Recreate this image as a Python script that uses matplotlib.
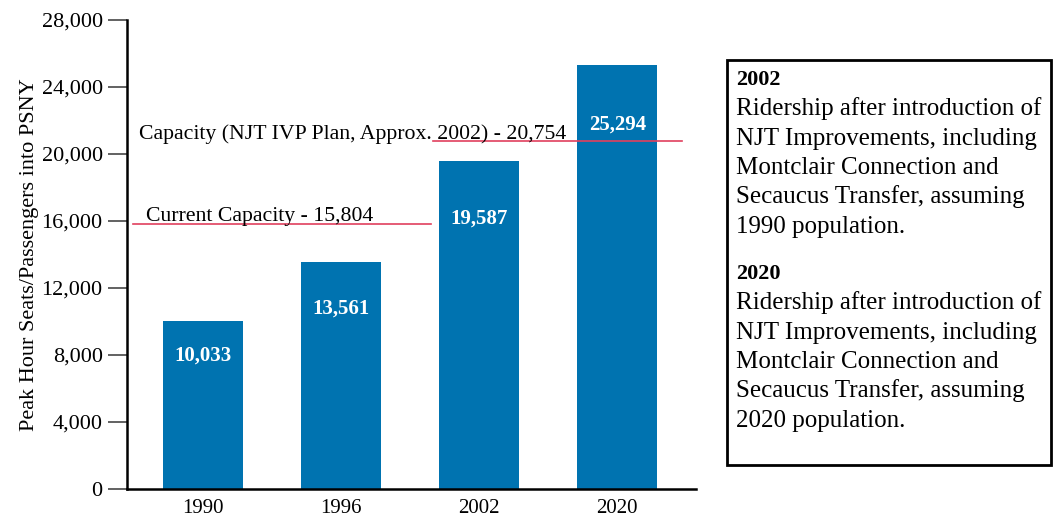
import matplotlib
matplotlib.use('Agg')
import matplotlib.pyplot as plt
from matplotlib.patches import Rectangle

plt.rcParams['font.family'] = 'Liberation Serif'

# Data
years = ['1990', '1996', '2002', '2020']
riders = [10033, 13561, 19587, 25294]
current_capacity = 15804
ivp_capacity = 20754
y_ticks = [0, 4000, 8000, 12000, 16000, 20000, 24000, 28000]
note_lines = ['Ridership after introduction of', 'NJT Improvements, including',
              'Montclair Connection and', 'Secaucus Transfer, assuming']
note_years = ['2002', '2020']
note_pops = ['1990 population.', '2020 population.']

BAR_COLOR = '#0073b0'
LINE_COLOR = '#e0405e'

fig = plt.figure(figsize=(10.54, 5.16), dpi=100)
ax = fig.add_axes([127 / 1054, 27 / 516, (696 - 127) / 1054, 469 / 516])

x = list(range(len(years)))
ax.bar(x, riders, width=0.58, color=BAR_COLOR, zorder=2)

# value labels inside bars (pixel offsets below bar top)
label_drop = [35, 47, 58, 59]
for xi, v, d in zip(x, riders, label_drop):
    ax.annotate(f"{v:,}", xy=(xi, v), xytext=(0, -d), textcoords='offset pixels',
                ha='center', va='center', color='white', fontsize=15,
                fontweight='bold', zorder=4)

# capacity lines
ax.plot([-0.507, 1.652], [current_capacity] * 2, color=LINE_COLOR, lw=1.2, zorder=3)
ax.plot([1.667, 3.47], [ivp_capacity] * 2, color=LINE_COLOR, lw=1.2, zorder=3)
ax.annotate(f"Current Capacity - {current_capacity:,}", xy=(-0.412, current_capacity),
            xytext=(0, 3), textcoords='offset pixels',
            fontsize=15.7, ha='left', va='baseline', zorder=4)
ax.annotate(f"Capacity (NJT IVP Plan, Approx. 2002) - {ivp_capacity:,}", xy=(-0.462, ivp_capacity),
            xytext=(0, 2), textcoords='offset pixels',
            fontsize=15.7, ha='left', va='baseline', zorder=4)

ax.set_xlim(-0.55, 3.57)
ax.set_ylim(0, 28000)
ax.set_yticks(y_ticks)
ax.set_yticklabels([f"{t:,}" for t in y_ticks])
ax.set_xticks(x)
ax.set_xticklabels(years)
ax.tick_params(axis='y', direction='out', length=13.5, width=1.3, color='#555555',
               labelsize=16, pad=4)
ax.tick_params(axis='x', length=0, labelsize=15, pad=7)
ax.spines['top'].set_visible(False)
ax.spines['right'].set_visible(False)
ax.spines['left'].set_linewidth(1.8)
ax.spines['bottom'].set_linewidth(1.8)
ax.set_ylabel('Peak Hour Seats/Passengers into PSNY', fontsize=16, labelpad=2)

# note box on the right
fig.patches.append(Rectangle((727 / 1054, 51 / 516), (1051 - 727) / 1054, (456 - 51) / 516,
                             transform=fig.transFigure, fill=False, edgecolor='black',
                             linewidth=2))
W, H = 1054, 516
for head, pop, y0 in zip(note_years, note_pops, [85, 279]):
    fig.text(736 / W, 1 - y0 / H, head, fontsize=16, fontweight='bold',
             ha='left', va='baseline')
    for i, line in enumerate(note_lines + [pop]):
        fig.text(736 / W, 1 - (y0 + 30 + i * 29.5) / H, line, fontsize=18,
                 ha='left', va='baseline')

fig.savefig('out.png', dpi=100)
